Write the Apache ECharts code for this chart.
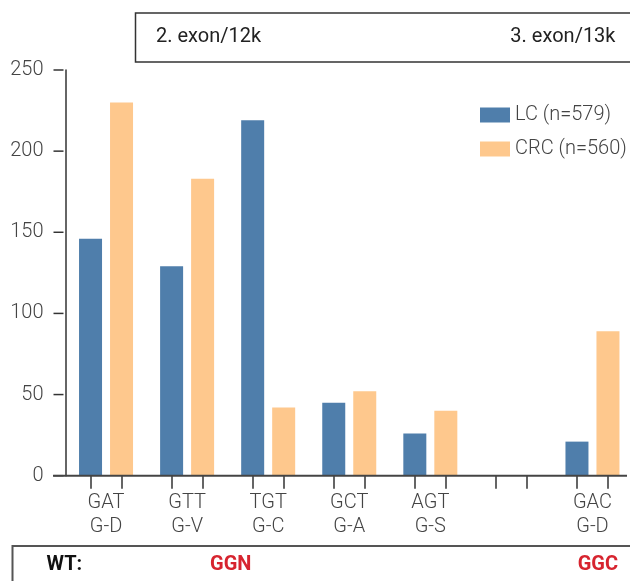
<!DOCTYPE html>
<html>
<head>
<meta charset="utf-8">
<script src="https://cdn.jsdelivr.net/npm/echarts@6/dist/echarts.min.js"></script>
<style>
  html, body { margin: 0; padding: 0; background: #fff; }
  #chart { width: 630px; height: 581px; }
</style>
</head>
<body>
<div id="chart"></div>
<script>
// codon changes per group (one empty group between AGT and GAC)
const codons = ['GAT', 'GTT', 'TGT', 'GCT', 'AGT', '', 'GAC'];
const aminoChanges = ['G-D', 'G-V', 'G-C', 'G-A', 'G-S', '', 'G-D'];
const lcValues = [146, 129, 219, 45, 26, null, 21];
const crcValues = [230, 183, 42, 52, 40, null, 89];
const yTicks = [0, 50, 100, 150, 200, 250];

const FONT = 'Roboto';
const GRID_LEFT = 65.5;
const GRID_RIGHT = -3;
const BAR_W = 23;
const BAR_GAP = 8; // px between the two bars of a group
const Y_AXIS_X = 63.5;

const chart = echarts.init(document.getElementById('chart'));

const categories = codons.map((c, i) => c ? c + '\n' + aminoChanges[i] : '');

// tick under each bar centre, in category units
const bandPx = (630 - GRID_LEFT - GRID_RIGHT) / categories.length;
const halfOffset = (BAR_W + BAR_GAP) / 2 / bandPx;
const tickValues = [];
categories.forEach((c, i) => {
  tickValues.push(i + 0.5 - halfOffset, i + 0.5 + halfOffset);
});

const option = {
  animation: false,
  backgroundColor: '#fff',
  textStyle: { fontFamily: FONT },
  grid: {
    left: GRID_LEFT,
    right: GRID_RIGHT,
    top: 70,
    bottom: 105.3,
    containLabel: false,
    outerBoundsMode: 'none'
  },
  legend: {
    orient: 'vertical',
    left: 475,
    top: 100,
    itemWidth: 30,
    itemHeight: 15,
    itemGap: 14,
    icon: 'rect',
    data: ['LC (n=579)', 'CRC (n=560)'],
    textStyle: { fontSize: 20, color: '#444', fontFamily: FONT, fontWeight: 300 }
  },
  xAxis: [
    {
      type: 'category',
      data: categories,
      axisLine: { show: false },
      axisTick: { show: false },
      axisLabel: {
        interval: 0,
        fontSize: 20,
        lineHeight: 24.5,
        margin: 15,
        color: '#444',
        fontWeight: 300
      }
    },
    {
      type: 'value',
      position: 'bottom',
      min: 0,
      max: categories.length,
      axisLine: { show: false },
      axisTick: {
        show: true,
        length: 13,
        customValues: tickValues,
        lineStyle: { color: '#333', width: 1.5 }
      },
      axisLabel: { show: false },
      splitLine: { show: false }
    }
  ],
  yAxis: {
    type: 'value',
    min: 0,
    max: 250,
    interval: 50,
    offset: GRID_LEFT - Y_AXIS_X,
    axisLine: { show: true, lineStyle: { color: '#333', width: 1.5 } },
    axisTick: { show: false },
    axisLabel: {
      margin: 10,
      padding: [0, 10, 0, 0],
      fontSize: 20,
      color: '#444',
      fontWeight: 300
    },
    splitLine: { show: false }
  },
  series: [
    {
      name: 'LC (n=579)',
      type: 'bar',
      xAxisIndex: 0,
      data: lcValues,
      barWidth: BAR_W,
      barGap: (BAR_GAP / BAR_W * 100) + '%',
      itemStyle: { color: '#4f7eab' }
    },
    {
      name: 'CRC (n=560)',
      type: 'bar',
      xAxisIndex: 0,
      data: crcValues,
      barWidth: BAR_W,
      barGap: (BAR_GAP / BAR_W * 100) + '%',
      itemStyle: { color: '#fec88d' }
    }
  ]
};

chart.setOption(option);

// baseline at y = 0, extending a little past the y axis like the original
const y0 = chart.convertToPixel({ yAxisIndex: 0 }, 0);

// y ticks, positioned through the axis scale
const yTickLines = yTicks.map(v => {
  const y = chart.convertToPixel({ yAxisIndex: 0 }, v);
  return {
    type: 'line',
    shape: { x1: Y_AXIS_X - 10, y1: y, x2: Y_AXIS_X, y2: y },
    style: { stroke: '#333', lineWidth: 1.5 },
    z: 10
  };
});

chart.setOption({
  graphic: yTickLines.concat([
    {
      type: 'line',
      shape: { x1: 53, y1: y0, x2: 627, y2: y0 },
      style: { stroke: '#444', lineWidth: 2 },
      z: 10
    },
    {
      type: 'rect',
      shape: { x: 135.5, y: 13, width: 520, height: 49 },
      style: { fill: 'none', stroke: '#333', lineWidth: 1.5 }
    },
    {
      type: 'text',
      left: 156,
      top: 27,
      style: { text: '2. exon/12k', fontSize: 20, fill: '#222', fontFamily: FONT }
    },
    {
      type: 'text',
      right: 14.5,
      top: 27,
      style: { text: '3. exon/13k', fontSize: 20, fill: '#222', fontFamily: FONT }
    },
    {
      type: 'rect',
      shape: { x: 12.5, y: 546, width: 640, height: 60 },
      style: { fill: 'none', stroke: '#555', lineWidth: 2 }
    },
    {
      type: 'text',
      left: 46.5,
      top: 555,
      style: { text: 'WT:', fontSize: 20, fontWeight: 'bold', fill: '#111', fontFamily: FONT }
    },
    {
      type: 'text',
      left: 210,
      top: 555,
      style: { text: 'GGN', fontSize: 20, fontWeight: 'bold', fill: '#d7242f', fontFamily: FONT }
    },
    {
      type: 'text',
      right: 12,
      top: 555,
      style: { text: 'GGC', fontSize: 20, fontWeight: 'bold', fill: '#d7242f', fontFamily: FONT }
    }
  ])
});
</script>
</body>
</html>
